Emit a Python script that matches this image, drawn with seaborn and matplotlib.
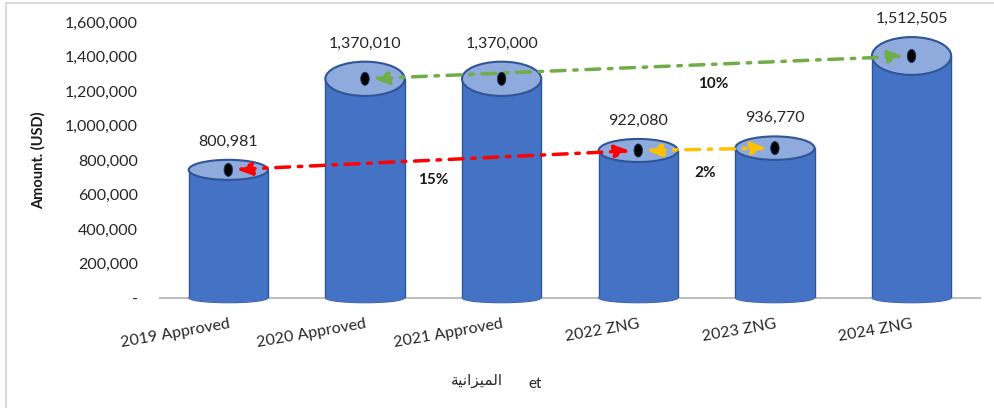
import matplotlib
matplotlib.use("Agg")
import matplotlib.pyplot as plt
from matplotlib.patches import Ellipse
from matplotlib.lines import Line2D
import seaborn as sns
import pandas as pd

# data
categories = ["2019 Approved", "2020 Approved", "2021 Approved",
              "2022 ZNG", "2023 ZNG", "2024 ZNG"]
amounts = [800981, 1370010, 1370000, 922080, 936770, 1512505]
y_ticks = [0, 200000, 400000, 600000, 800000, 1000000, 1200000, 1400000, 1600000]
# growth arrows: (from index, to index, colour)
growth_pairs = [(0, 3, "#FF0000"), (1, 5, "#70AD47"), (3, 4, "#FFC000")]
bottom_label = "\ufe94\ufef4\ufee7\ufe8d\ufeb0\ufef4\ufee4\ufedf\ufe8d"  # الميزانية, shaped for display
bottom_suffix = "et"

body = "#4472C4"
edge = "#2F5597"
top_fill = "#8FAADC"
bar_w = 0.58
cap_ratio = 0.145   # perspective: caps look taller the higher they sit
base_h = 55000

# 3D look: the back rim of the top cap sits at the value, the body ends at the cap centre
df = pd.DataFrame({"cat": categories, "amount": amounts})
df["cap_h"] = df["amount"] * cap_ratio
df["cap"] = df["amount"] - df["cap_h"] / 2

sns.set_style("white")
plt.rcParams["font.family"] = ["Lato", "DejaVu Sans"]

fig = plt.figure(figsize=(9.95, 4.08), dpi=100)
ax = fig.add_axes([0.1608, 0.2696, 0.824, 0.6765])

sns.barplot(data=df, x="cat", y="cap", color=body, width=bar_w,
            saturation=1, edgecolor=edge, linewidth=1.0, ax=ax, zorder=3)

for i, row in df.iterrows():
    c = row["cap"]
    # bottom of cylinder
    ax.add_patch(Ellipse((i, 0), bar_w, base_h, facecolor=body, edgecolor="none",
                         zorder=3.5, clip_on=False))
    ax.add_patch(Ellipse((i, 0), bar_w - 0.004, base_h, facecolor="none", edgecolor=edge,
                         lw=0.8, zorder=2.9, clip_on=False))
    # top of cylinder
    ax.add_patch(Ellipse((i, c), bar_w, row["cap_h"], facecolor=top_fill, edgecolor=edge,
                         lw=1.5, zorder=4, clip_on=False))
    ax.add_patch(Ellipse((i, c), 0.062, 76000, facecolor="black", edgecolor="#1F3864",
                         lw=0.6, zorder=6, clip_on=False))
    ax.annotate(f"{row['amount']:,}", xy=(i, row["amount"]), xytext=(0, 13),
                textcoords="offset points", ha="center", va="center",
                fontsize=11.5, color="#262626")

# dash-dot growth arrows with their percentage
label_offsets = {(0, 3): (0, -14), (1, 5): (54, -12), (3, 4): (-1, -17)}
for a, b, col in growth_pairs:
    ya = df["cap"][a]
    yb = df["cap"][b]
    ax.annotate("", xy=(b, yb), xytext=(a, ya),
                arrowprops=dict(arrowstyle="<|-|>,head_length=0.9,head_width=0.38",
                                color=col, lw=2.5, linestyle=(0, (4, 2.5, 1, 2.5)),
                                shrinkA=6, shrinkB=6),
                zorder=5)
    pct = round((amounts[b] / amounts[a] - 1) * 100)
    ax.annotate(f"{pct}%", xy=((a + b) / 2, (ya + yb) / 2), xytext=label_offsets[(a, b)],
                textcoords="offset points", ha="center", va="center",
                fontsize=11, fontweight="bold", color="#1a1a1a")

ax.set_ylim(0, 1600000)
ax.set_xlim(-0.5, 5.5)
ax.set_yticks(y_ticks)
ax.set_yticklabels(["-" if t == 0 else f"{t:,}" for t in y_ticks])
ax.tick_params(axis="y", length=0, pad=16, labelsize=11.5, labelcolor="#262626")
ax.tick_params(axis="x", length=0, pad=14, labelsize=11.5, labelcolor="#262626")
for lab in ax.get_xticklabels():
    lab.set_rotation(10)
    lab.set_ha("right")
    lab.set_rotation_mode("anchor")

sns.despine(ax=ax, left=True)
ax.spines["bottom"].set_color("#BFBFBF")
ax.spines["bottom"].set_linewidth(1.5)
ax.spines["bottom"].set_zorder(2)

ax.set_xlabel("")
ax.set_ylabel("Amount. (USD)", fontsize=10.5, fontweight="bold", color="#1a1a1a")
ax.yaxis.set_label_coords(-0.14, 0.5)

fig.text(0.479, 0.068, bottom_label, ha="center", va="center", fontsize=11,
         family="DejaVu Sans", color="#262626")
fig.text(0.538, 0.058, bottom_suffix, ha="center", va="center", fontsize=11,
         color="#262626")

# light frame on the left and top edges
fig.add_artist(Line2D([0.006, 0.006], [0.0, 0.993], transform=fig.transFigure,
                      color="#D9D9D9", lw=1.5))
fig.add_artist(Line2D([0.006, 1.0], [0.993, 0.993], transform=fig.transFigure,
                      color="#D9D9D9", lw=1.5))

fig.savefig("out.png", dpi=100)
